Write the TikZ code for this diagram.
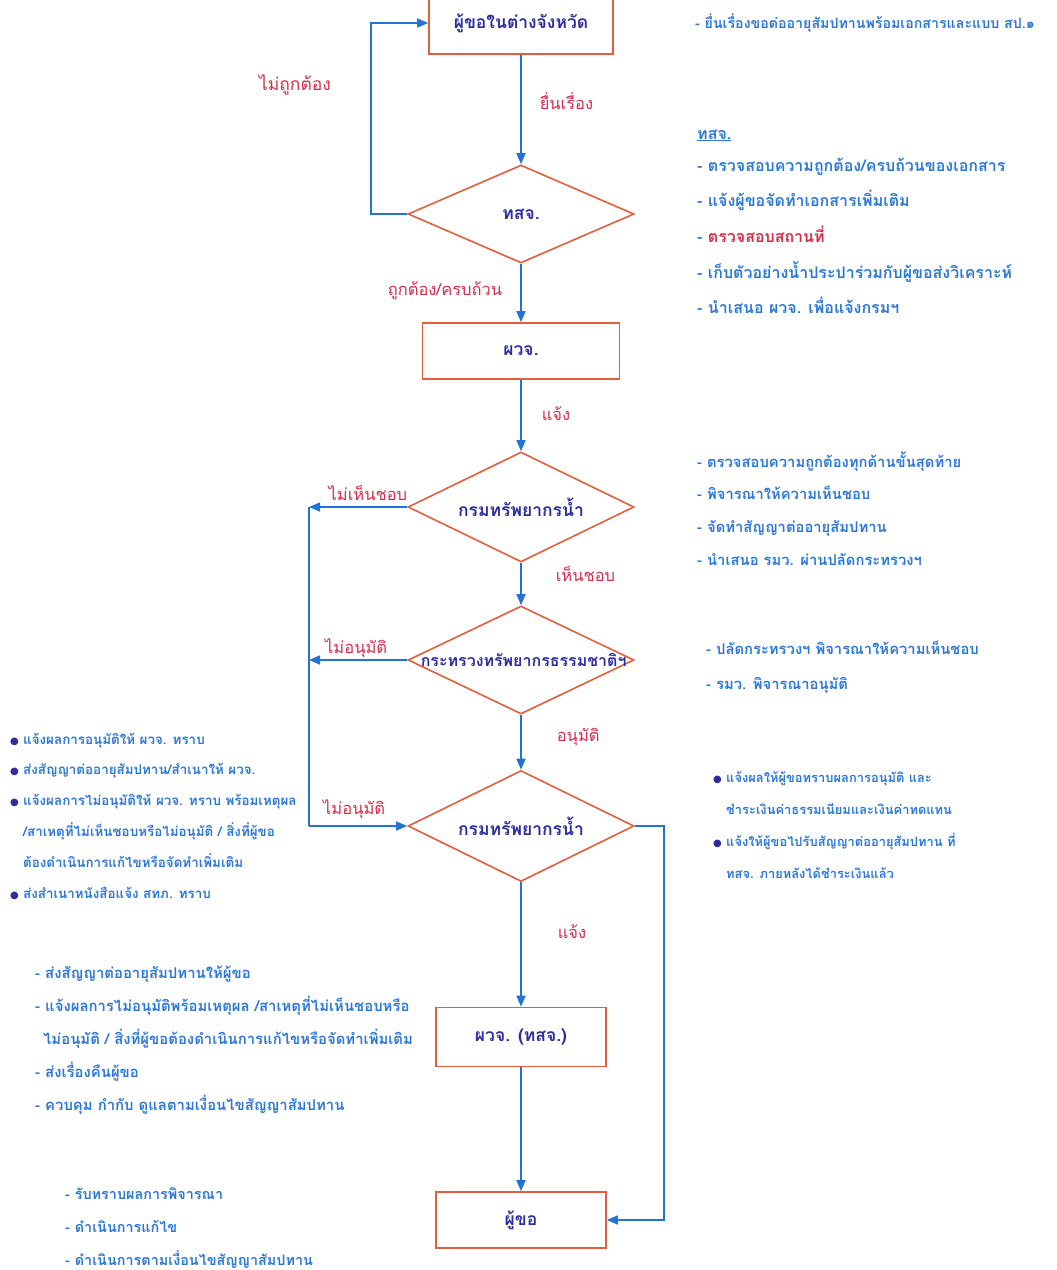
\documentclass[tikz,border=0pt]{standalone}
\usepackage{fontspec}
\newfontfamily\thaifont[Script=Thai]{Loma}
\newfontfamily\symfont{DejaVu Sans}
\usetikzlibrary{shapes.geometric,arrows.meta}
\definecolor{notetext}{RGB}{45,120,215}
\definecolor{nodetext}{RGB}{45,45,160}
\definecolor{answerred}{RGB}{215,45,75}
\definecolor{boxline}{RGB}{225,95,60}
\definecolor{flowblue}{RGB}{35,115,215}
\def\colx{521}
\def\leftx{309}
\newcommand{\dotitem}{\makebox[13pt][l]{\symfont\fontsize{10}{10}\selectfont\textcolor{nodetext}{●}}}
\newcommand{\fsz}[1]{\fontsize{#1}{#1}\selectfont}

\begin{document}
\begin{tikzpicture}[x=1pt,y=-1pt]
  \tikzset{%
    process/.style={rectangle, draw=boxline, line width=1.6pt, text=nodetext,
      font=\thaifont\bfseries\fsz{17.5}},
    decision/.style={diamond, aspect=2.1, draw=boxline, line width=1.6pt, inner sep=0pt,
      minimum width=226pt, minimum height=108pt, text=nodetext,
      font=\thaifont\bfseries\fsz{17.5}},
    flow/.style={draw=flowblue, line width=1.6pt, -{Triangle[length=11pt,width=9pt]}},
    link/.style={draw=flowblue, line width=1.6pt},
    answer/.style={text=answerred, inner sep=0pt, font=\thaifont\fsz{16.5}},
    note/.style={text=notetext, anchor=base west, inner sep=0pt,
      font=\thaifont\bfseries}}
  \useasboundingbox (0,0) rectangle (1057,1270);

  % flow chart
  \node[process, minimum width=184pt, minimum height=62pt] (asker) at (\colx,23) {ผู้ขอในต่างจังหวัด};
  \node[decision, minimum height=98pt] (tsj) at (\colx,214) {ทสจ.};
  \node[process, minimum width=197pt, minimum height=56pt] (gov) at (\colx,351) {ผวจ.};
  \node[decision, minimum height=110pt] (dwr1) at (\colx,507) {กรมทรัพยากรน้ำ};
  \node[decision] (mnre) at (\colx,660) {\makebox[0pt]{\fsz{16} กระทรวงทรัพยากรธรรมชาติฯ}};
  \node[decision, minimum height=111pt] (dwr2) at (\colx,826) {กรมทรัพยากรน้ำ};
  \node[process, minimum width=170pt, minimum height=59pt] (govtsj) at (\colx,1037) {ผวจ. (ทสจ.)};
  \node[process, minimum width=170pt, minimum height=56pt] (applicant) at (\colx,1220) {ผู้ขอ};

  \coordinate (back) at (371,214);
  \coordinate (left1) at (\leftx,507);
  \coordinate (left2) at (\leftx,660);
  \coordinate (left3) at (\leftx,826);
  \coordinate (right3) at (664,826);

  \draw[flow] (asker) -- node[answer, pos=0.42, right=18pt]{ยื่นเรื่อง} (tsj);
  \draw[flow] (tsj.west) -- (back) |- (asker.west);
  \node[answer, font=\thaifont\fsz{17.5}] (wrong) at (295,85) {ไม่ถูกต้อง};
  \draw[flow] (tsj) -- node[answer, pos=0.46, left=18pt]{ถูกต้อง/ครบถ้วน} (gov);
  \draw[flow] (gov) -- node[answer, pos=0.48, right=20pt]{แจ้ง} (dwr1);
  \draw[flow] (dwr1.west) -- node[answer, pos=0.4, above=6pt]{ไม่เห็นชอบ} (left1);
  \draw[flow] (dwr1) -- node[answer, pos=0.27, right=34pt]{เห็นชอบ} (mnre);
  \draw[flow] (mnre.west) -- node[answer, pos=0.52, above=1pt]{ไม่อนุมัติ} (left2);
  \draw[flow] (mnre) -- node[answer, pos=0.4, right=35pt]{อนุมัติ} (dwr2);
  \draw[link] (left1) -- (left3);
  \draw[flow] (left3) -- node[answer, pos=0.46, above=6pt]{ไม่อนุมัติ} (dwr2.west);
  \draw[flow] (dwr2) -- node[answer, pos=0.4, right=36pt]{แจ้ง} (govtsj);
  \draw[flow] (govtsj) -- (applicant);
  \draw[flow] (dwr2.east) -- (right3) |- (applicant.east);

  % notes on the right
  \node[note, font=\thaifont\bfseries\fsz{14.2}] (submit) at (695,28) {- ยื่นเรื่องขอต่ออายุสัมปทานพร้อมเอกสารและแบบ สป.๑};
  \node[note, font=\thaifont\bfseries\fsz{16}] (tsjhead) at (697,139) {\underline{ทสจ.}};
  \foreach \txt [count=\i] in {{- ตรวจสอบความถูกต้อง/ครบถ้วนของเอกสาร},
      {- แจ้งผู้ขอจัดทำเอกสารเพิ่มเติม},
      {- \textcolor{answerred}{ตรวจสอบสถานที่}},
      {- เก็บตัวอย่างน้ำประปาร่วมกับผู้ขอส่งวิเคราะห์},
      {- นำเสนอ ผวจ. เพื่อแจ้งกรมฯ}}
    \node[note, font=\thaifont\bfseries\fsz{16}] (tsj\i) at (697,{171+35.7*(\i-1)}) {\txt};
  \foreach \txt [count=\i] in {{- ตรวจสอบความถูกต้องทุกด้านขั้นสุดท้าย},
      {- พิจารณาให้ความเห็นชอบ},
      {- จัดทำสัญญาต่ออายุสัมปทาน},
      {- นำเสนอ รมว. ผ่านปลัดกระทรวงฯ}}
    \node[note, font=\thaifont\bfseries\fsz{14.8}] (dwr\i) at (697,{467+32.7*(\i-1)}) {\txt};
  \foreach \txt [count=\i] in {{- ปลัดกระทรวงฯ พิจารณาให้ความเห็นชอบ},
      {- รมว. พิจารณาอนุมัติ}}
    \node[note, font=\thaifont\bfseries\fsz{14.8}] (mnre\i) at (706,{654+35*(\i-1)}) {\txt};
  \foreach \txt [count=\i] in {{\dotitem แจ้งผลให้ผู้ขอทราบผลการอนุมัติ และ},
      {\hspace{13pt}ชำระเงินค่าธรรมเนียมและเงินค่าทดแทน},
      {\dotitem แจ้งให้ผู้ขอไปรับสัญญาต่ออายุสัมปทาน ที่},
      {\hspace{13pt}ทสจ. ภายหลังได้ชำระเงินแล้ว}}
    \node[note, font=\thaifont\bfseries\fsz{12.9}] (pay\i) at (713,{782+32*(\i-1)}) {\txt};

  % notes on the left
  \foreach \txt [count=\i] in {{\dotitem แจ้งผลการอนุมัติให้ ผวจ. ทราบ},
      {\dotitem ส่งสัญญาต่ออายุสัมปทาน/สำเนาให้ ผวจ.},
      {\dotitem แจ้งผลการไม่อนุมัติให้ ผวจ. ทราบ พร้อมเหตุผล},
      {\hspace{13pt}/สาเหตุที่ไม่เห็นชอบหรือไม่อนุมัติ / สิ่งที่ผู้ขอ},
      {\hspace{13pt}ต้องดำเนินการแก้ไขหรือจัดทำเพิ่มเติม},
      {\dotitem ส่งสำเนาหนังสือแจ้ง สทภ. ทราบ}}
    \node[note, font=\thaifont\bfseries\fsz{13.4}] (inform\i) at (10,{744+30.8*(\i-1)}) {\txt};
  \foreach \txt [count=\i] in {{- ส่งสัญญาต่ออายุสัมปทานให้ผู้ขอ},
      {- แจ้งผลการไม่อนุมัติพร้อมเหตุผล /สาเหตุที่ไม่เห็นชอบหรือ},
      {\hspace{8pt}ไม่อนุมัติ / สิ่งที่ผู้ขอต้องดำเนินการแก้ไขหรือจัดทำเพิ่มเติม},
      {- ส่งเรื่องคืนผู้ขอ},
      {- ควบคุม กำกับ ดูแลตามเงื่อนไขสัญญาสัมปทาน}}
    \node[note, font=\thaifont\bfseries\fsz{14.9}] (send\i) at (35,{978+33*(\i-1)}) {\txt};
  \foreach \txt [count=\i] in {{- รับทราบผลการพิจารณา},
      {- ดำเนินการแก้ไข},
      {- ดำเนินการตามเงื่อนไขสัญญาสัมปทาน}}
    \node[note, font=\thaifont\bfseries\fsz{14.4}] (act\i) at (65,{1199+33*(\i-1)}) {\txt};
\end{tikzpicture}
\end{document}
